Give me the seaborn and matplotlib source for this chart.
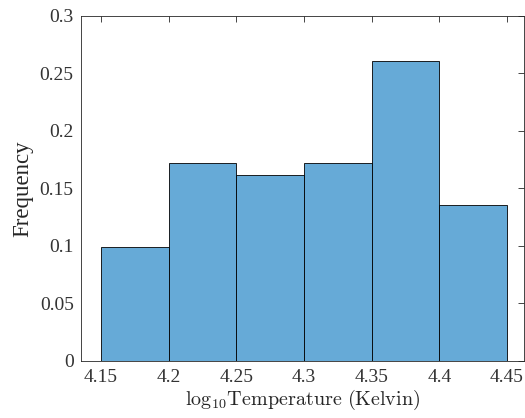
import matplotlib
matplotlib.use("Agg")
import matplotlib.pyplot as plt
import seaborn as sns
import numpy as np

bin_edges = [4.15, 4.20, 4.25, 4.30, 4.35, 4.40, 4.45]
frequencies = [0.0993, 0.1718, 0.1616, 0.1718, 0.2604, 0.1355]
x_ticks = [4.15, 4.2, 4.25, 4.3, 4.35, 4.4, 4.45]
x_tick_labels = ["4.15", "4.2", "4.25", "4.3", "4.35", "4.4", "4.45"]
y_ticks = [0, 0.05, 0.1, 0.15, 0.2, 0.25, 0.3]
y_tick_labels = ["0", "0.05", "0.1", "0.15", "0.2", "0.25", "0.3"]

sns.set_style("white")
plt.rcParams["mathtext.fontset"] = "cm"
plt.rcParams["font.family"] = ["Liberation Serif", "DejaVu Serif"]

centers = [(a + b) / 2 for a, b in zip(bin_edges[:-1], bin_edges[1:])]

fig = plt.figure(figsize=(5.25, 4.18), dpi=100)
ax = fig.add_axes([0.1537, 0.1364, 0.8443, 0.826])
sns.histplot(x=centers, weights=frequencies, bins=bin_edges, stat="count",
             color="#66AAD7", alpha=1.0, edgecolor="black", linewidth=0.6, ax=ax)

ax.set_xlim(4.135, 4.4625)
ax.set_ylim(0, 0.3)
ax.set_xticks(x_ticks)
ax.set_xticklabels(x_tick_labels)
ax.set_yticks(y_ticks)
ax.set_yticklabels(y_tick_labels)
ax.tick_params(direction="in", length=4, width=0.6, colors="#262626",
               labelsize=14, top=True, right=True, labelcolor="#333333")
ax.tick_params(axis="x", pad=6)
ax.tick_params(axis="y", pad=5)
for s in ax.spines.values():
    s.set_color("#262626")
    s.set_linewidth(0.6)
ax.set_xlabel(r"$\mathrm{log}_{10}\mathrm{Temperature\ (Kelvin)}$", fontsize=14.5, color="#262626", labelpad=1)
ax.set_ylabel("Frequency", fontsize=16.5, color="#262626", labelpad=5)

fig.savefig("out.png", dpi=100)
